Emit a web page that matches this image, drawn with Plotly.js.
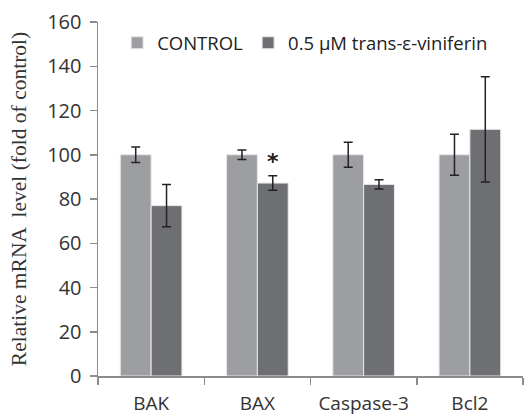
<!DOCTYPE html>
<html>
<head>
<meta charset="utf-8">
<script src="https://cdn.plot.ly/plotly-3.0.1.min.js"></script>
<style>html,body{margin:0;padding:0;background:#fff;}#chart{width:529px;height:416px;}</style>
</head>
<body>
<div id="chart"></div>
<script>
const categories = ["BAK", "BAX", "Caspase-3", "Bcl2"];
const controlValues = [100, 100, 100, 100];
const controlErrors = [3.5, 2.2, 5.6, 9.3];
const treatValues = [77.0, 87.2, 86.6, 111.5];
const treatErrors = [9.5, 3.3, 2.1, 23.8];
const seriesNames = ["CONTROL", "0.5 μM trans-ε-viniferin"];
const significance = [{category: "BAX", y: 97, text: "*"}];

const errStyle = {type: "data", visible: true, color: "#222", thickness: 1.5, width: 4.5};

const traces = [
  {type: "bar", name: seriesNames[0], x: categories, y: controlValues,
   error_y: Object.assign({array: controlErrors}, errStyle),
   marker: {color: "#9d9ea2", line: {color: "#e8e8e8", width: 1}}},
  {type: "bar", name: seriesNames[1], x: categories, y: treatValues,
   error_y: Object.assign({array: treatErrors}, errStyle),
   marker: {color: "#6e6f73", line: {color: "#e8e8e8", width: 1}}}
];

const layout = {
  width: 529, height: 416,
  margin: {l: 98, r: 6, t: 22, b: 40},
  paper_bgcolor: "#fff", plot_bgcolor: "#fff",
  barmode: "group", bargap: 0.42, bargroupgap: 0,
  font: {family: "Open Sans, Noto Sans, sans-serif", color: "#333", size: 19},
  showlegend: true,
  legend: {orientation: "h", x: 0.045, y: 0.94, xanchor: "left", yanchor: "middle",
           font: {size: 18.5, color: "#222"}, itemwidth: 30,
           bgcolor: "rgba(0,0,0,0)", traceorder: "normal"},
  xaxis: {type: "category", showline: true, linecolor: "#8c8c8c", linewidth: 1.5,
          ticks: "outside", tickson: "boundaries", ticklen: 7, tickcolor: "#8c8c8c", tickwidth: 1.5,
          ticklabelstandoff: 10, showgrid: false, zeroline: false,
          tickfont: {size: 19, color: "#333"}, fixedrange: true},
  yaxis: {range: [0, 160], dtick: 20, showline: true, linecolor: "#8c8c8c", linewidth: 1.5,
          ticks: "outside", ticklen: 7, tickcolor: "#8c8c8c", tickwidth: 1.5,
          showgrid: false, zeroline: false, ticklabelstandoff: 4,
          tickfont: {size: 20, color: "#333"},
          title: {text: "Relative mRNA  level (fold of control)", standoff: 14,
                  font: {family: "Liberation Serif, Times New Roman, serif", size: 21.5, color: "#333"}}},
  annotations: significance.map(s => ({x: s.category, y: s.y, xref: "x", yref: "y", text: "<b>" + s.text + "</b>",
    showarrow: false, xshift: 15.5, font: {size: 22, color: "#222", family: "DejaVu Sans, sans-serif"}}))
};

Plotly.newPlot("chart", traces, layout, {displayModeBar: false, staticPlot: true});
</script>
</body>
</html>
